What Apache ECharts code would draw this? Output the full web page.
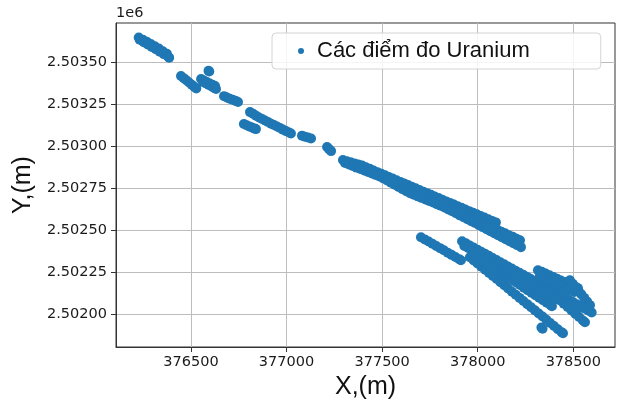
<!DOCTYPE html>
<html>
<head>
<meta charset="utf-8">
<script src="https://cdn.jsdelivr.net/npm/echarts@6/dist/echarts.min.js"></script>
<style>
  html, body { margin: 0; padding: 0; background: #ffffff; }
  #chart { width: 618px; height: 408px; }
</style>
</head>
<body>
<div id="chart"></div>
<script>
// Axis ticks (metres, UTM)
const xTicks = [376500, 377000, 377500, 378000, 378500];
const yTicks = [2502000, 2502250, 2502500, 2502750, 2503000, 2503250, 2503500];
const seriesName = 'Các điểm đo Uranium';

// Measurement points, grouped by survey traverse: [X, Y]
const line01 = [[376227,2503648],[376248,2503635],[376269,2503622],[376290,2503609],[376311,2503596],[376332,2503582],[376353,2503566],[376374,2503551]];
const line02 = [[376232,2503634],[376253,2503620],[376274,2503606],[376295,2503592],[376316,2503578],[376337,2503563],[376358,2503549],[376379,2503535],[376386,2503528]];
const line03 = [[376448,2503419],[376462,2503406],[376476,2503393],[376490,2503380],[376504,2503367],[376517,2503355],[376528,2503345]];
const line04 = [[376592,2503450],[376596,2503446]];
const line05 = [[376553,2503401],[376568,2503392],[376583,2503383],[376598,2503374],[376613,2503366],[376626,2503359]];
const line06 = [[376563,2503383],[376578,2503375],[376593,2503366],[376608,2503357],[376622,2503348],[376631,2503341]];
const line07 = [[376673,2503299],[376688,2503291],[376703,2503284],[376718,2503277],[376733,2503271],[376746,2503264]];
const line08 = [[376809,2503204],[376825,2503194],[376840,2503183],[376856,2503172],[376872,2503163],[376887,2503154],[376903,2503145],[376919,2503135],[376934,2503127],[376950,2503118],[376966,2503109],[376981,2503100],[376997,2503091],[377013,2503083],[377023,2503077]];
const line09 = [[376777,2503133],[376791,2503126],[376805,2503119],[376819,2503113],[376833,2503106],[376840,2503103]];
const line10 = [[377081,2503064],[377096,2503058],[377112,2503053],[377128,2503047]];
const line11 = [[377212,2502996],[377222,2502984],[377233,2502972]];
const line12 = [[377295,2502919],[377315,2502912],[377335,2502906],[377355,2502899],[377375,2502893],[377395,2502886],[377415,2502876],[377435,2502867],[377455,2502857],[377475,2502847],[377495,2502838],[377515,2502828],[377535,2502818],[377555,2502809],[377575,2502799],[377595,2502789],[377615,2502780],[377635,2502770],[377655,2502760],[377675,2502751],[377695,2502741],[377715,2502731],[377735,2502722],[377755,2502712],[377775,2502702],[377795,2502693],[377815,2502683],[377835,2502673],[377855,2502664],[377875,2502654],[377895,2502644],[377915,2502635],[377935,2502625],[377955,2502615],[377975,2502606],[377995,2502596],[378015,2502586],[378035,2502577],[378055,2502567],[378075,2502557],[378095,2502548]];
const line13 = [[377306,2502901],[377326,2502892],[377346,2502883],[377366,2502874],[377386,2502866],[377406,2502857],[377426,2502848],[377446,2502839],[377466,2502830],[377486,2502821],[377506,2502810],[377526,2502797],[377546,2502784],[377566,2502772],[377586,2502759],[377606,2502746],[377626,2502734],[377646,2502722],[377666,2502713],[377686,2502703],[377706,2502694],[377726,2502684],[377746,2502675],[377766,2502666],[377786,2502656],[377806,2502647],[377826,2502637],[377846,2502625],[377866,2502614],[377886,2502602],[377906,2502590],[377926,2502579],[377946,2502567],[377966,2502555],[377986,2502544],[378006,2502532],[378026,2502520],[378046,2502508],[378066,2502496],[378086,2502484],[378106,2502472],[378126,2502460],[378146,2502448],[378166,2502436],[378186,2502424],[378206,2502413],[378226,2502401]];
const line14 = [[377803,2502663],[377823,2502652],[377843,2502642],[377863,2502631],[377883,2502621],[377903,2502610],[377923,2502599],[377943,2502589],[377963,2502578],[377983,2502568],[378003,2502557],[378023,2502546],[378043,2502536],[378063,2502525],[378083,2502515],[378103,2502504],[378123,2502493],[378143,2502483],[378163,2502472],[378183,2502462],[378203,2502451],[378221,2502442]];
const line15 = [[377703,2502460],[377723,2502447],[377743,2502434],[377763,2502421],[377783,2502408],[377803,2502395],[377823,2502382],[377843,2502368],[377863,2502355],[377883,2502342],[377903,2502329],[377912,2502323]];
const line16 = [[377918,2502436],[377938,2502424],[377958,2502411],[377978,2502399],[377998,2502386],[378018,2502374],[378038,2502361],[378058,2502349],[378078,2502336],[378098,2502324],[378118,2502311],[378138,2502299],[378158,2502286],[378178,2502274],[378198,2502261],[378218,2502249],[378238,2502236],[378258,2502224],[378278,2502211],[378298,2502199],[378318,2502186],[378338,2502174],[378358,2502161],[378378,2502149],[378398,2502136],[378418,2502124],[378438,2502111],[378458,2502099],[378478,2502086],[378498,2502074],[378518,2502061],[378538,2502049],[378558,2502036],[378578,2502024],[378596,2502012]];
const line17 = [[377930,2502408],[377950,2502396],[377970,2502383],[377990,2502371],[378010,2502358]];
const line18 = [[377959,2502341],[377979,2502322],[377999,2502304],[378019,2502285],[378039,2502267],[378059,2502248],[378079,2502229],[378099,2502211],[378119,2502192],[378139,2502174],[378159,2502155],[378179,2502136],[378199,2502118],[378219,2502099],[378239,2502081],[378259,2502062],[378279,2502043],[378299,2502025],[378319,2502006],[378339,2501988],[378359,2501969],[378379,2501950],[378399,2501932],[378419,2501913],[378439,2501895],[378446,2501889]];
const line19 = [[378001,2502341],[378021,2502326],[378041,2502311],[378061,2502296],[378081,2502281],[378101,2502266],[378121,2502251],[378141,2502236],[378161,2502221],[378181,2502206],[378201,2502191],[378221,2502176],[378241,2502160],[378261,2502145],[378281,2502130],[378301,2502115],[378321,2502100],[378341,2502085],[378361,2502070],[378381,2502055],[378388,2502050]];
const line20 = [[378315,2502264],[378335,2502254],[378355,2502244],[378375,2502233],[378395,2502223],[378415,2502213],[378435,2502203],[378455,2502193],[378475,2502182],[378495,2502172],[378515,2502162],[378524,2502157]];
const line21 = [[378325,2502228],[378345,2502218],[378365,2502207],[378385,2502197],[378405,2502186],[378425,2502176],[378445,2502166],[378465,2502155],[378485,2502145],[378505,2502134]];
const line22 = [[378482,2502204],[378497,2502183],[378512,2502162],[378527,2502141],[378542,2502120],[378557,2502099],[378572,2502078],[378587,2502056]];
const line23 = [[378430,2502085],[378450,2502065],[378470,2502045],[378490,2502025],[378510,2502005],[378530,2501985],[378550,2501965],[378561,2501954]];
const line24 = [[378333,2501923],[378339,2501916]];
const line25 = [[378180,2502241],[378200,2502229],[378220,2502216],[378240,2502204],[378260,2502191],[378280,2502179],[378300,2502166],[378320,2502154],[378340,2502141],[378360,2502129],[378380,2502116],[378400,2502104],[378420,2502091],[378440,2502079],[378460,2502066],[378480,2502054],[378500,2502041],[378520,2502029]];

const points = [].concat(line01, line02, line03, line04, line05, line06, line07, line08,
  line09, line10, line11, line12, line13, line14, line15, line16, line17, line18,
  line19, line20, line21, line22, line23, line24, line25);

const tickFont = { fontFamily: 'DejaVu Sans', fontSize: 14.5, color: '#1a1a1a' };
const titleFont = { fontFamily: 'Liberation Sans', fontSize: 25, color: '#111111' };
const gridLine = { show: true, lineStyle: { color: '#bdbdbd', width: 1 } };
const spine = '#333333';

const chart = echarts.init(document.getElementById('chart'), null, { renderer: 'canvas' });
chart.setOption({
  animation: false,
  backgroundColor: '#ffffff',
  grid: { left: 116, top: 23, right: 3, bottom: 61, show: true, borderColor: spine, borderWidth: 1, backgroundColor: 'transparent' },
  graphic: [{
    type: 'text', left: 116, top: 6,
    style: { text: '1e6', font: '14.5px "DejaVu Sans"', fill: '#1a1a1a' }
  }],
  legend: {
    left: 272, top: 33,
    padding: [7, 71, 7, 26],
    itemWidth: 6, itemHeight: 6, itemGap: 10,
    icon: 'circle',
    backgroundColor: 'rgba(255,255,255,0.85)',
    borderColor: '#d4d4d4', borderWidth: 1, borderRadius: 4,
    textStyle: { fontFamily: 'Liberation Sans', fontSize: 22, color: '#111111', padding: [0, 0, 0, 8] },
    data: [seriesName]
  },
  xAxis: {
    type: 'value', min: 376108, max: 378718,
    name: 'X,(m)', nameLocation: 'middle', nameGap: 27, nameTextStyle: titleFont,
    axisLine: { show: true, onZero: false, lineStyle: { color: spine } },
    axisTick: { show: true, inside: false, length: 5, customValues: xTicks, lineStyle: { color: spine } },
    axisLabel: Object.assign({ margin: 8, customValues: xTicks, formatter: v => String(v) }, tickFont),
    splitLine: gridLine
  },
  yAxis: {
    type: 'value', min: 2501807, max: 2503734,
    name: 'Y,(m)', nameLocation: 'middle', nameGap: 80, nameTextStyle: titleFont,
    axisLine: { show: true, onZero: false, lineStyle: { color: spine } },
    axisTick: { show: true, inside: false, length: 5, customValues: yTicks, lineStyle: { color: spine } },
    axisLabel: Object.assign({ margin: 9, customValues: yTicks, formatter: v => (v / 1e6).toFixed(5) }, tickFont),
    splitLine: gridLine
  },
  series: [{
    name: seriesName,
    type: 'scatter',
    data: points,
    symbol: 'circle',
    symbolSize: 10,
    itemStyle: { color: '#1f77b4', opacity: 1 },
    emphasis: { disabled: true }
  }]
});
</script>
</body>
</html>
